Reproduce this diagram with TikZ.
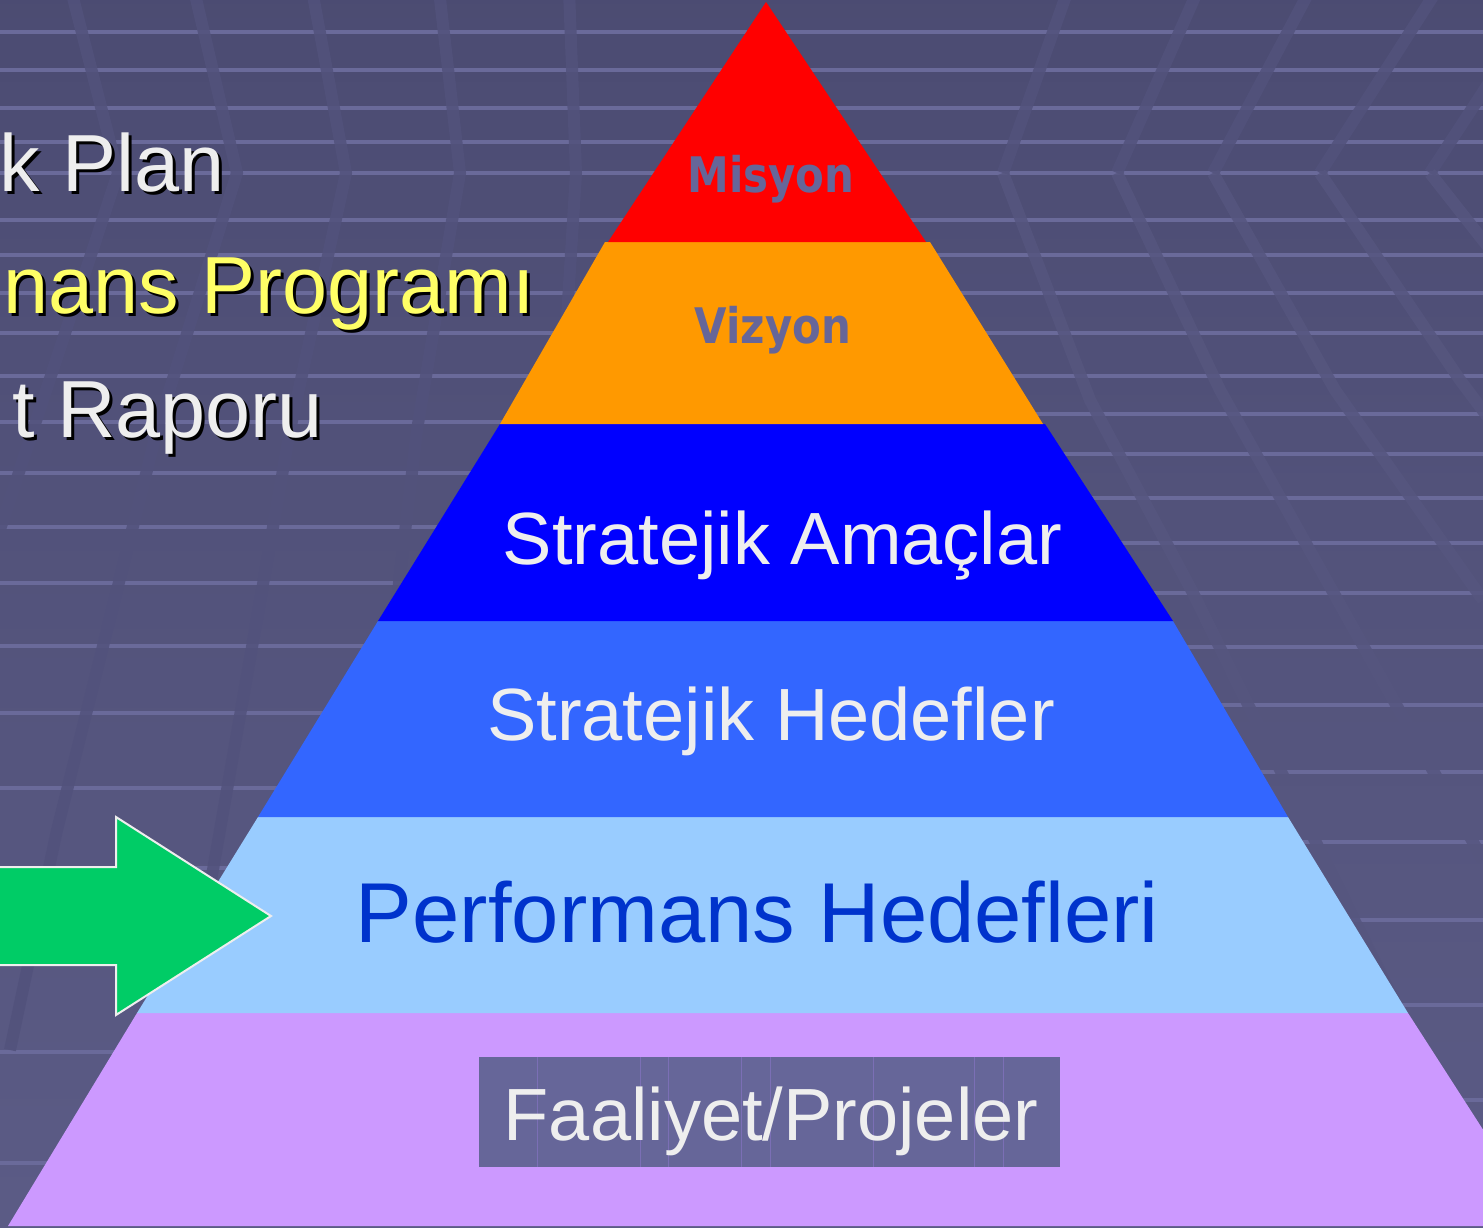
\documentclass[tikz,border=0pt]{standalone}
\usepackage{fontspec}
\setmainfont{Liberation Sans}
\newfontfamily\headfont[FakeStretch=0.855]{DejaVu Sans}
\definecolor{bgA}{HTML}{63638F}
\definecolor{bgB}{HTML}{48486E}
\definecolor{bgC}{HTML}{5A5A87}
\definecolor{stripecol}{HTML}{6A6A9A}
\definecolor{bandcol}{HTML}{52527C}
\definecolor{bandlt}{HTML}{56567F}
\definecolor{lyred}{HTML}{FF0000}
\definecolor{lyorange}{HTML}{FF9900}
\definecolor{lyblue}{HTML}{0000FF}
\definecolor{lymid}{HTML}{3366FF}
\definecolor{lylight}{HTML}{99CCFF}
\definecolor{lypurple}{HTML}{CC99FF}
\definecolor{slate}{HTML}{666699}
\definecolor{offwhite}{HTML}{EEEEEE}
\definecolor{txtyellow}{HTML}{FFFF66}
\definecolor{perfblue}{HTML}{0033CC}
\definecolor{arrowgreen}{HTML}{00CC66}
\definecolor{boxline}{HTML}{7B6FB5}
\pgfdeclareverticalshading{bgshade}{100bp}{color(0bp)=(bgA); color(86bp)=(bgB); color(100bp)=(bgC)}
\newcommand{\shadowtxt}[2]{\rlap{\hspace{3pt}\raisebox{-3pt}{\color{black}#2}}\textcolor{#1}{#2}}

\begin{document}
\begin{tikzpicture}[x=1pt,y=-1pt,
  stripeline/.style={stripecol, line width=4pt},
  bandline/.style={bandcol, line width=12pt, opacity=0.85},
  bandlight/.style={bandlt, line width=12pt, opacity=0.85},
  pyrtext/.style={anchor=base, inner sep=0pt, font=\fontsize{74}{80}\selectfont, text=offwhite},
  toptext/.style={anchor=base, inner sep=0pt, font=\headfont\bfseries\fontsize{49}{55}\selectfont, text=slate},
  sidetext/.style={anchor=base east, inner sep=0pt, font=\fontsize{81}{90}\selectfont},
  boxgrid/.style={boxline, line width=0.8pt}
]
\useasboundingbox (0,0) rectangle (1483,1227);
\begin{scope}
\clip (0,0) rectangle (1483,1227);
% background
\shade[shading=bgshade] (0,0) rectangle (1483,1227);
\foreach \yy in {32,70,108,142,173,220,255,293,333,376,422,473,527,583,646,713,788,868,955,1052,1163}
  \draw[stripeline] (0,\yy) -- (770,\yy);
\foreach \yy in {32,70,108,142,173,220,255,293,333,376,414,454,498,543,593,647,705,772,842,920,1005,1100,1205}
  \draw[stripeline] (770,\yy) -- (1483,\yy);
% perspective bands, left
\draw[bandline] (71,-10) -- (118,173) -- (33,430) -- (-30,620);
\draw[bandline] (194,-10) -- (237,173) -- (157,430) -- (57,830) -- (10,1050);
\draw[bandline] (312,-10) -- (346,173) -- (290,430) -- (220,830) -- (190,1000);
\draw[bandline] (439,-10) -- (460,173) -- (417,430) -- (370,830);
\draw[bandline] (569,-10) -- (576,173) -- (560,430);
% perspective bands, right
\draw[bandline] (1068,-10) -- (1003,173);
\draw[bandline] (1198,-10) -- (1117,173);
\draw[bandline] (1310,-10) -- (1213,173);
\draw[bandline] (1437,-10) -- (1320,173);
\draw[bandline] (1530,20) -- (1430,173);
\draw[bandlight] (1003,173) -- (1090,400) -- (1193,593) -- (1400,1013);
\draw[bandlight] (1117,173) -- (1220,390) -- (1483,860);
\draw[bandlight] (1213,173) -- (1335,390) -- (1483,600);
\draw[bandlight] (1320,173) -- (1460,380) -- (1520,460);
\draw[bandlight] (1430,173) -- (1530,300);
% pyramid layers
\fill[lypurple] (137,1013) -- (1408,1013) -- (1545,1226) -- (8,1226) -- cycle;
\fill[lylight] (258,817) -- (1288,817) -- (1408,1013) -- (137,1013) -- cycle;
\fill[lymid] (378,621) -- (1173,621) -- (1288,817) -- (258,817) -- cycle;
\fill[lyblue] (500,424) -- (1045,424) -- (1173,621) -- (378,621) -- cycle;
\fill[lyorange] (605,242) -- (930,242) -- (1043,424) -- (500,424) -- cycle;
\fill[lyred] (766,2) -- (926,242) -- (608,242) -- cycle;
% green arrow
\draw[fill=arrowgreen, draw=offwhite, line width=2pt, line join=miter]
  (-5,867) -- (116,867) -- (116,817) -- (271,916) -- (116,1015) -- (116,965) -- (-5,965) -- cycle;
\end{scope}

% box for bottom layer
\node (faalbox) [fill=slate, minimum width=581pt, minimum height=110pt, inner sep=0pt] at (769.5,1112) {};
\foreach \xx in {537,640,668,741,770,873,974,1003}
  \draw[boxgrid] (\xx,1057) -- (\xx,1167);

% pyramid texts
\node (misyon) [toptext] at (771,192) {Misyon};
\node (vizyon) [toptext] at (773,343) {Vizyon};
\node (amaclar) [pyrtext] at (782.5,564) {Stratejik Amaçlar};
\node (shedef) [pyrtext] at (771,740) {Stratejik Hedefler};
\node (perf) [pyrtext, font=\fontsize{85}{90}\selectfont, text=perfblue] at (757.5,942) {Performans Hedefleri};
\node (faal) [pyrtext] at (771,1140) {Faaliyet/Projeler};

% side texts with shadows
\node (plan) [sidetext] at (225,191) {\shadowtxt{offwhite}{k Plan}};
\node (prog) [sidetext] at (535,313) {\shadowtxt{txtyellow}{nans Programı}};
\node (rapor) [sidetext] at (323,437) {\shadowtxt{offwhite}{t Raporu}};
\end{tikzpicture}
\end{document}
